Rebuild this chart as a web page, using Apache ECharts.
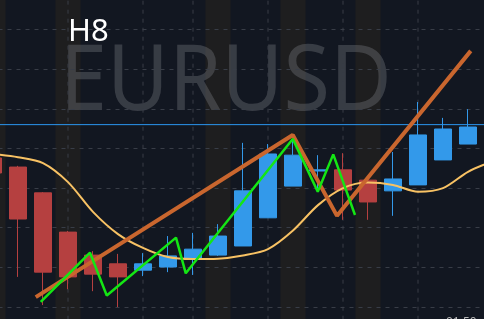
<!DOCTYPE html>
<html>
<head>
<meta charset="utf-8">
<script src="https://cdn.jsdelivr.net/npm/echarts@6/dist/echarts.min.js"></script>
<style>
html,body{margin:0;padding:0;background:#121721;}
#c{width:484px;height:319px;}
</style>
</head>
<body>
<div id="c"></div>
<script>
const categories = ['06-09 16:00','06-10 00:00','06-10 08:00','06-10 16:00','06-11 00:00','06-11 08:00','06-11 16:00','06-12 00:00','06-12 08:00','06-12 16:00','06-13 00:00','06-13 08:00','06-13 16:00','06-14 00:00','06-14 08:00','06-14 16:00','06-15 00:00','06-15 08:00','06-15 16:00','06-16 00:00','06-16 08:00'];
const opens  = [1.08476,1.08453,1.08388,1.08289,1.08231,1.08209,1.08193,1.08201,1.08220,1.08231,1.08254,1.08325,1.08405,1.08443,1.08446,1.08420,1.08393,1.08408,1.08471,1.08511];
const closes = [1.08438,1.08322,1.08188,1.08176,1.08183,1.08176,1.08209,1.08229,1.08246,1.08279,1.08393,1.08486,1.08483,1.08446,1.08395,1.08365,1.08423,1.08534,1.08549,1.08554];
const lows   = [1.08420,1.08176,1.08105,1.08145,1.08140,1.08100,1.08178,1.08188,1.08181,1.08229,1.08254,1.08325,1.08405,1.08390,1.08320,1.08320,1.08330,1.08408,1.08471,1.08511];
const highs  = [1.08496,1.08456,1.08390,1.08292,1.08241,1.08234,1.08236,1.08279,1.08287,1.08309,1.08514,1.08511,1.08521,1.08483,1.08488,1.08423,1.08491,1.08617,1.08577,1.08599];
const ma     = [1.08486,1.08478,1.08463,1.08415,1.08340,1.08284,1.08249,1.08226,1.08221,1.08222,1.08230,1.08246,1.08293,1.08357,1.08400,1.08414,1.08408,1.08391,1.08400,1.08441,1.08468];
const zigzagX = [1.91,3.88,4.55,7.32,7.71,11.99,12.99,13.61,14.48];
const zigzagY = [1.08113,1.08237,1.08129,1.08275,1.08185,1.08524,1.08391,1.08485,1.08332];
const trendX = [1.71,11.99,13.76,19.11];
const trendY = [1.08125,1.08534,1.08330,1.08746];
const sessionBands = [0,3,9,12,15];
const vLines = [3,6,8,11,14,17];
const currentPrice = 1.08560;
const yMin = 1.0800, yMax = 1.0890, yStep = 0.001;
const symbolName = 'EURUSD';
const timeframe = 'H8';
const cornerLabel = '01.50';

const chart = echarts.init(document.getElementById('c'), null, {renderer:'canvas'});
const candleData = opens.map((o,i)=>[o, closes[i], lows[i], highs[i]]);
const bandData = categories.map((c,i)=> sessionBands.includes(i) ? yMax : '-');
const gridCol = '#383d47';
const xLo = -0.5, xHi = categories.length - 0.5;

const vLineSeries = vLines.map(k => ({
  type:'line', xAxisIndex:1, data:[[k, yMin],[k, yMax]], showSymbol:false, symbol:'none', z:-1, silent:true,
  lineStyle:{color:gridCol, type:[4,5], width:1}
}));

chart.setOption({
  animation:false,
  backgroundColor:'#121721',
  grid:{left:-19.5, right:-21.5, top:-10.2, bottom:-27.7, containLabel:false, outerBoundsMode:'none'},
  xAxis:[
    {type:'category', data:categories, boundaryGap:true, show:true,
     axisLine:{show:false}, axisTick:{show:false}, axisLabel:{show:false}, splitLine:{show:false}},
    {type:'value', min:xLo, max:xHi, show:false}
  ],
  yAxis:{type:'value', min:yMin, max:yMax, interval:yStep, scale:true,
    axisLine:{show:false}, axisTick:{show:false}, axisLabel:{show:false},
    splitLine:{show:true, lineStyle:{color:gridCol, type:[4,5], width:1}}},
  graphic:[
    {type:'text', x:60, y:84, z:-1, silent:true, scaleX:0.92,
     style:{text:symbolName, font:'400 92px "Noto Sans"', fill:'rgba(130,132,138,0.34)', textVerticalAlign:'middle'}},
    {type:'text', x:68, y:32, z:10,
     style:{text:timeframe, font:'400 31px "Noto Sans"', fill:'#ffffff', textVerticalAlign:'middle'}},
    {type:'text', x:446, y:317, z:10,
     style:{text:cornerLabel, font:'400 12px "Noto Sans"', fill:'#b8b8b8'}}
  ],
  series:[
    {type:'bar', data:bandData, barCategoryGap:'0%', z:-2, silent:true,
     itemStyle:{color:'#1e1e1f'}},
    ...vLineSeries,
    {type:'candlestick', data:candleData, barWidth:17, z:2,
     itemStyle:{color:'#3399ea', color0:'#b54040', borderColor:'#3399ea', borderColor0:'#b54040', borderWidth:1}},
    {type:'line', xAxisIndex:1, data:[[xLo, currentPrice],[xHi, currentPrice]], showSymbol:false, symbol:'none', z:3, silent:true,
     lineStyle:{color:'#2b96ef', type:'solid', width:1}},
    {type:'line', data:ma, showSymbol:false, symbol:'none', smooth:0.3, z:4,
     lineStyle:{color:'#f8c264', width:2}},
    {type:'line', xAxisIndex:1, data:trendX.map((x,i)=>[x,trendY[i]]), showSymbol:false, symbol:'none', z:5,
     lineStyle:{color:'#c9662e', width:4}},
    {type:'line', xAxisIndex:1, data:zigzagX.map((x,i)=>[x,zigzagY[i]]), showSymbol:false, symbol:'none', z:6,
     lineStyle:{color:'#14e614', width:2.5}}
  ]
});
</script>
</body>
</html>
